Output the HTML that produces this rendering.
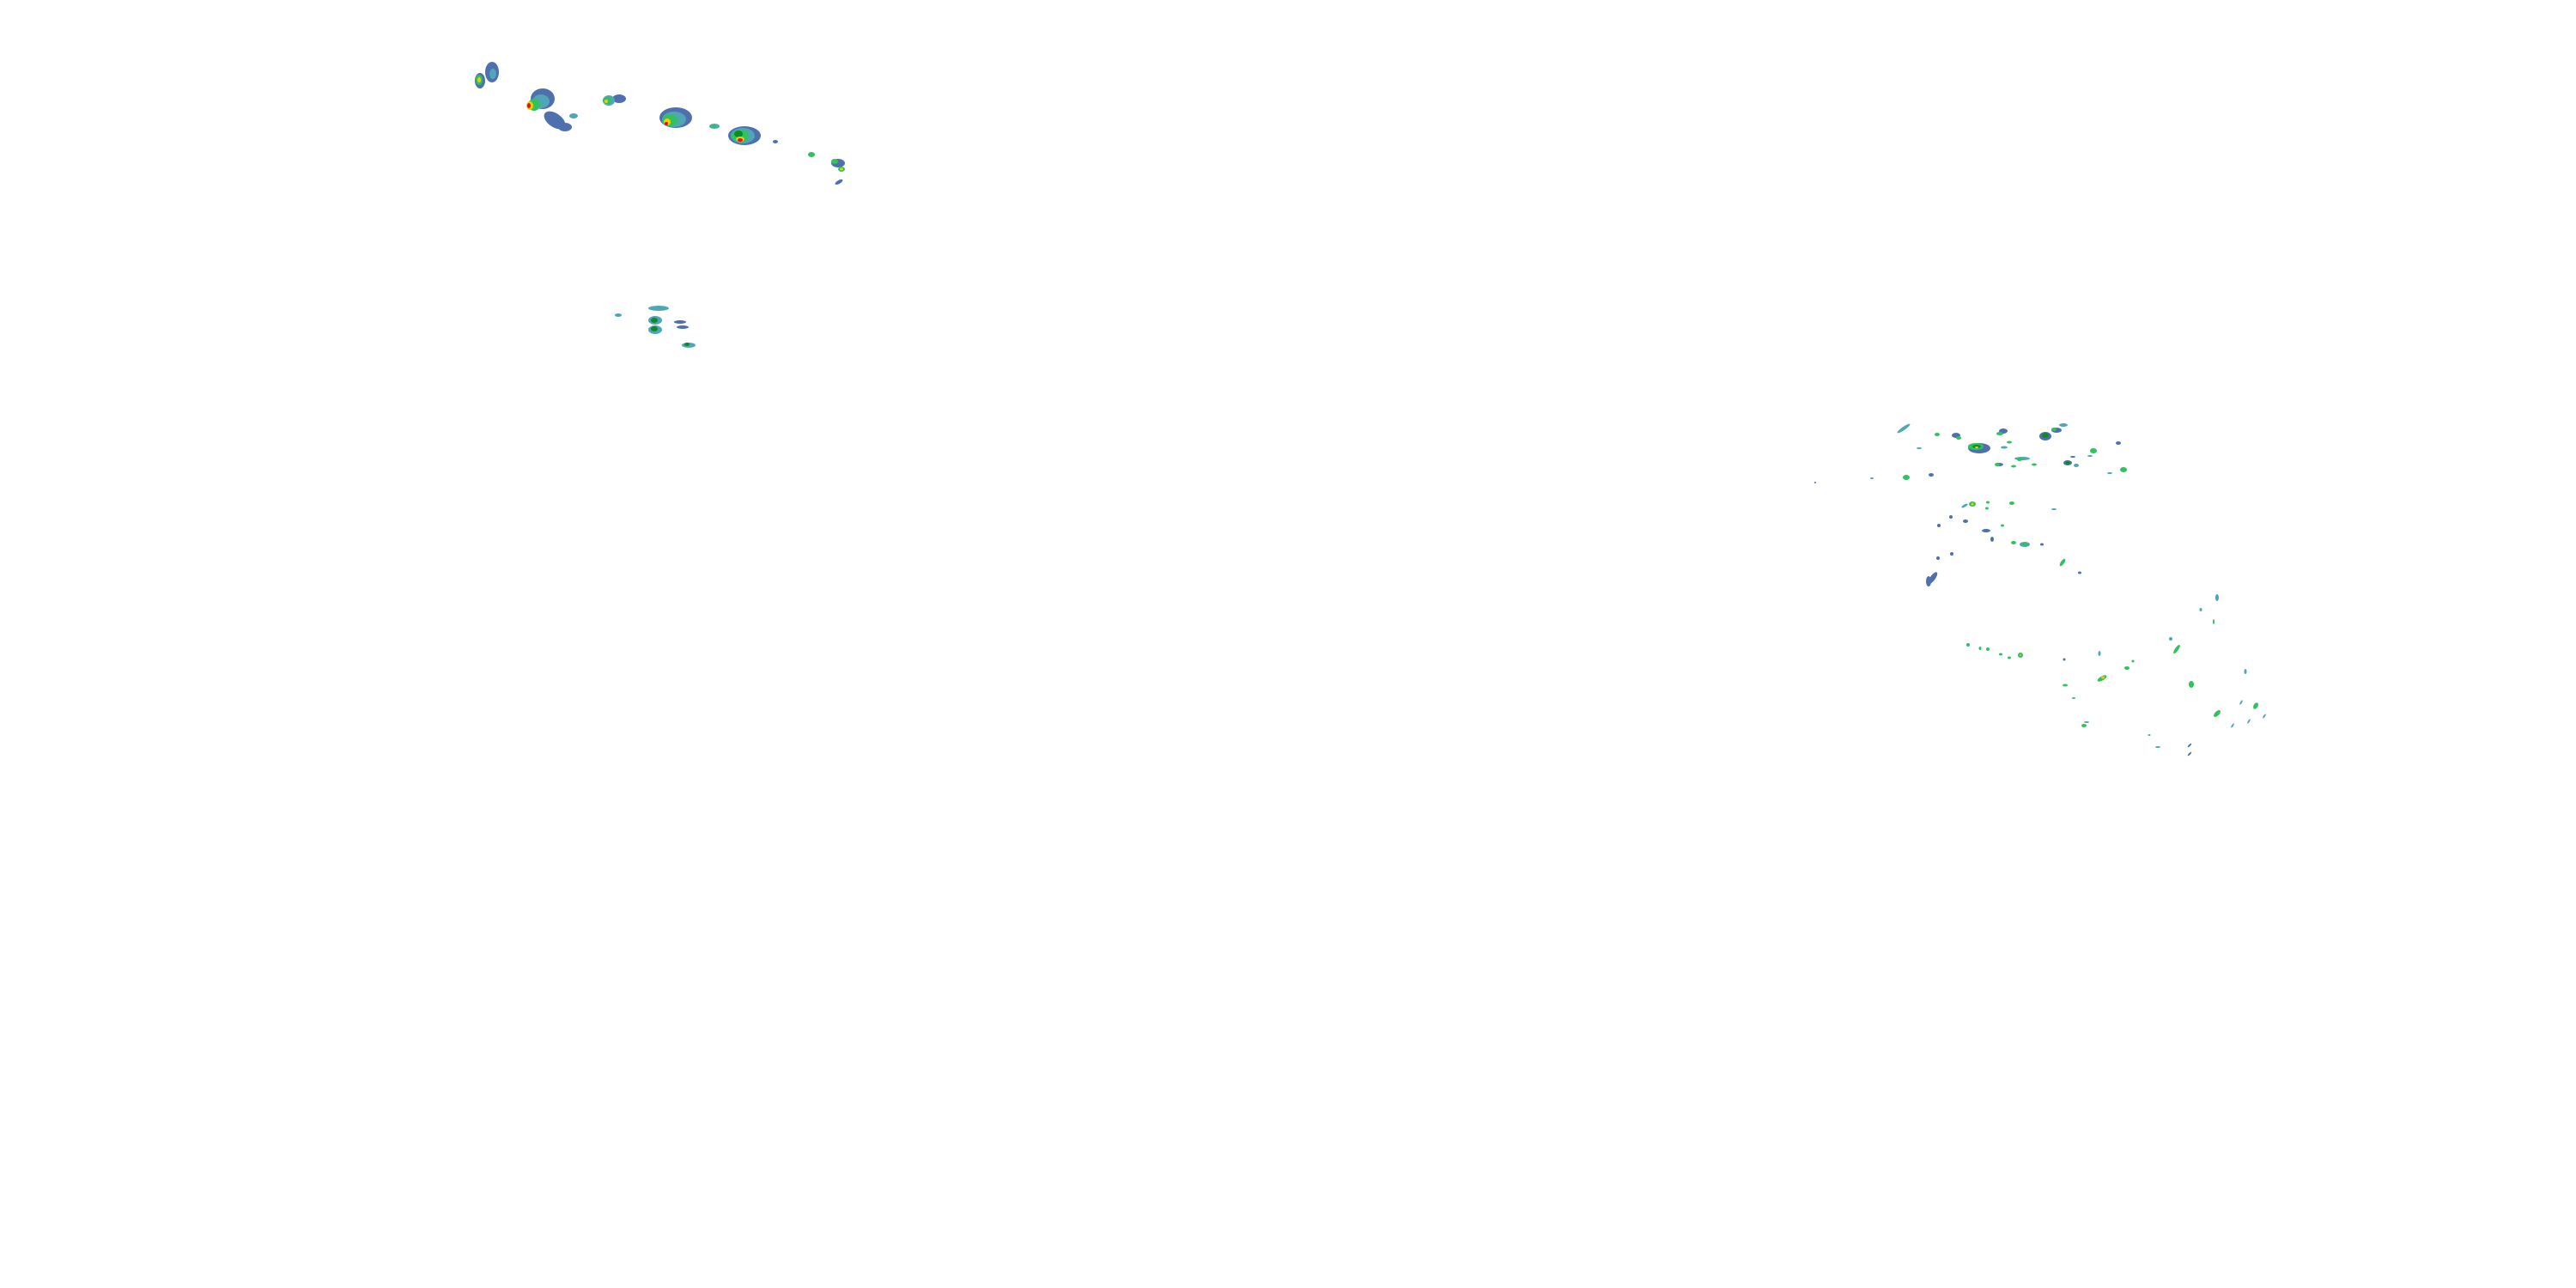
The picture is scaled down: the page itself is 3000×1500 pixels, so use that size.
<!DOCTYPE html>
<html><head><style>html,body{margin:0;padding:0;background:#fff}svg{display:block}</style></head><body>
<svg width="3000" height="1500" viewBox="0 0 3000 1500" xmlns="http://www.w3.org/2000/svg">
<defs>
<style>.b{fill:#4f6fae}.t{fill:#4fa6b4}.g{fill:#2fc25e}.d{fill:#0c8a2c}.y{fill:#f0cc00}.r{fill:#e0101e}</style>
</defs>
<!-- top-left storms -->
<ellipse class="b" cx="573" cy="84" rx="8" ry="12"/>
<ellipse class="t" cx="574" cy="86" rx="4" ry="6"/>
<ellipse class="b" cx="559" cy="94" rx="6" ry="9"/>
<ellipse class="g" cx="558" cy="93" rx="4" ry="6"/>
<ellipse class="y" cx="558" cy="93" rx="2" ry="3"/>
<ellipse class="b" cx="632" cy="115" rx="14" ry="12"/>
<ellipse class="b" cx="646" cy="140" rx="14" ry="8" transform="rotate(35 646 140)"/>
<ellipse class="b" cx="658" cy="148" rx="8" ry="5"/>
<ellipse class="t" cx="630" cy="118" rx="10" ry="8"/>
<ellipse class="g" cx="622" cy="122" rx="7" ry="7"/>
<ellipse class="y" cx="617" cy="123" rx="4" ry="5"/>
<ellipse class="r" cx="616" cy="123" rx="2" ry="3"/>
<ellipse class="t" cx="668" cy="135" rx="5" ry="3"/>
<ellipse class="b" cx="721" cy="115" rx="8" ry="5"/>
<ellipse class="t" cx="709" cy="117" rx="7" ry="6"/>
<ellipse class="g" cx="707" cy="117" rx="5" ry="4"/>
<ellipse class="y" cx="706" cy="118" rx="2" ry="2"/>
<ellipse class="b" cx="787" cy="137" rx="19" ry="12"/>
<ellipse class="t" cx="785" cy="139" rx="14" ry="9"/>
<ellipse class="g" cx="780" cy="140" rx="9" ry="7"/>
<ellipse class="y" cx="777" cy="142" rx="4" ry="4"/>
<ellipse class="r" cx="776" cy="144" rx="2" ry="2"/>
<ellipse class="t" cx="832" cy="147" rx="6" ry="3"/>
<ellipse class="g" cx="831" cy="147" rx="3" ry="2"/>
<ellipse class="b" cx="867" cy="158" rx="19" ry="11"/>
<ellipse class="t" cx="865" cy="158" rx="14" ry="9"/>
<ellipse class="g" cx="862" cy="158" rx="10" ry="7"/>
<ellipse class="d" cx="860" cy="156" rx="5" ry="4"/>
<ellipse class="y" cx="862" cy="162" rx="5" ry="3"/>
<ellipse class="r" cx="862" cy="163" rx="3" ry="2"/>
<ellipse class="b" cx="903" cy="165" rx="3" ry="2"/>
<ellipse class="g" cx="945" cy="180" rx="4" ry="3"/>
<ellipse class="b" cx="976" cy="190" rx="8" ry="5"/>
<ellipse class="g" cx="972" cy="188" rx="4" ry="3"/>
<ellipse class="g" cx="980" cy="197" rx="4" ry="3"/>
<ellipse class="y" cx="980" cy="197" rx="2" ry="1.5"/>
<ellipse class="b" cx="977" cy="212" rx="5" ry="2" transform="rotate(-30 977 212)"/>
<ellipse class="t" cx="767" cy="359" rx="12" ry="3"/>
<ellipse class="t" cx="763" cy="373" rx="8" ry="5"/>
<ellipse class="d" cx="762" cy="373" rx="4" ry="3"/>
<ellipse class="t" cx="763" cy="384" rx="8" ry="5"/>
<ellipse class="d" cx="762" cy="383" rx="4" ry="3"/>
<ellipse class="b" cx="792" cy="375" rx="7" ry="2"/>
<ellipse class="b" cx="795" cy="381" rx="7" ry="2"/>
<ellipse class="t" cx="802" cy="402" rx="8" ry="3"/>
<ellipse class="d" cx="800" cy="401" rx="3" ry="2"/>
<ellipse class="t" cx="720" cy="367" rx="4" ry="2"/>
<!-- right cluster -->
<g>
<ellipse class="t" cx="2217" cy="499" rx="9" ry="2" transform="rotate(-35 2217 499)"/>
<ellipse class="g" cx="2256" cy="506" rx="3" ry="2"/>
<ellipse class="b" cx="2278" cy="507" rx="5" ry="3"/>
<ellipse class="g" cx="2281" cy="510" rx="3" ry="2"/>
<ellipse class="b" cx="2305" cy="522" rx="13" ry="6"/>
<ellipse class="g" cx="2301" cy="520" rx="9" ry="4"/>
<ellipse class="d" cx="2302" cy="520" rx="5" ry="2"/>
<ellipse class="y" cx="2302" cy="521" rx="2" ry="1"/>
<ellipse class="b" cx="2333" cy="502" rx="5" ry="3"/>
<ellipse class="g" cx="2329" cy="505" rx="4" ry="2"/>
<ellipse class="b" cx="2382" cy="508" rx="7" ry="5"/>
<ellipse class="d" cx="2382" cy="507" rx="4" ry="3"/>
<ellipse class="b" cx="2395" cy="501" rx="6" ry="3"/>
<ellipse class="g" cx="2392" cy="500" rx="3" ry="2"/>
<ellipse class="t" cx="2403" cy="495" rx="5" ry="2"/>
<ellipse class="t" cx="2334" cy="521" rx="4" ry="1.5"/>
<ellipse class="g" cx="2340" cy="515" rx="3" ry="1.5"/>
<ellipse class="t" cx="2355" cy="534" rx="9" ry="2"/>
<ellipse class="g" cx="2352" cy="535" rx="3" ry="2"/>
<ellipse class="b" cx="2328" cy="541" rx="5" ry="2"/>
<ellipse class="g" cx="2326" cy="541" rx="3" ry="2"/>
<ellipse class="g" cx="2345" cy="543" rx="3" ry="1.5"/>
<ellipse class="g" cx="2369" cy="541" rx="3" ry="1.5"/>
<ellipse class="b" cx="2408" cy="539" rx="5" ry="3"/>
<ellipse class="d" cx="2408" cy="539" rx="3" ry="2"/>
<ellipse class="t" cx="2418" cy="542" rx="3" ry="2"/>
<ellipse class="b" cx="2414" cy="532" rx="3" ry="1"/>
<ellipse class="g" cx="2438" cy="525" rx="4" ry="3"/>
<ellipse class="t" cx="2434" cy="531" rx="3" ry="1"/>
<ellipse class="b" cx="2467" cy="516" rx="3" ry="2"/>
<ellipse class="g" cx="2473" cy="547" rx="4" ry="3"/>
<ellipse class="t" cx="2457" cy="551" rx="3" ry="1"/>
<ellipse class="t" cx="2235" cy="522" rx="3" ry="1"/>
<ellipse class="g" cx="2220" cy="556" rx="4" ry="3"/>
<ellipse class="b" cx="2249" cy="553" rx="3" ry="2"/>
<ellipse class="t" cx="2180" cy="557" rx="2" ry="1"/>
<ellipse class="g" cx="2297" cy="587" rx="4" ry="3"/>
<ellipse class="y" cx="2297" cy="587" rx="1.5" ry="1.5"/>
<ellipse class="t" cx="2288" cy="589" rx="4" ry="1.5" transform="rotate(-30 2288 589)"/>
<ellipse class="g" cx="2343" cy="586" rx="3" ry="2"/>
<ellipse class="g" cx="2315" cy="585" rx="2" ry="1.5"/>
<ellipse class="g" cx="2314" cy="592" rx="2" ry="1.5"/>
<ellipse class="t" cx="2392" cy="593" rx="3" ry="1"/>
<ellipse class="b" cx="2313" cy="618" rx="5" ry="2"/>
<ellipse class="b" cx="2289" cy="607" rx="3" ry="2"/>
<ellipse class="b" cx="2272" cy="602" rx="2" ry="2"/>
<ellipse class="b" cx="2258" cy="612" rx="2" ry="2"/>
<ellipse class="g" cx="2332" cy="612" rx="2" ry="1.5"/>
<ellipse class="b" cx="2320" cy="628" rx="2" ry="3"/>
<ellipse class="t" cx="2358" cy="634" rx="6" ry="3"/>
<ellipse class="g" cx="2358" cy="634" rx="3" ry="2"/>
<ellipse class="g" cx="2345" cy="632" rx="3" ry="2"/>
<ellipse class="b" cx="2378" cy="634" rx="2" ry="1.5"/>
<ellipse class="b" cx="2273" cy="645" rx="2" ry="2"/>
<ellipse class="b" cx="2257" cy="650" rx="2" ry="2"/>
<ellipse class="b" cx="2246" cy="677" rx="3" ry="6"/>
<ellipse class="b" cx="2251" cy="673" rx="3" ry="8" transform="rotate(35 2251 673)"/>
<ellipse class="g" cx="2402" cy="655" rx="2" ry="5" transform="rotate(35 2402 655)"/>
<ellipse class="b" cx="2422" cy="667" rx="2" ry="1.5"/>
<ellipse class="t" cx="2582" cy="696" rx="2" ry="4"/>
<ellipse class="t" cx="2563" cy="710" rx="1.5" ry="2"/>
<ellipse class="g" cx="2578" cy="724" rx="1" ry="3"/>
<ellipse class="t" cx="2528" cy="744" rx="2" ry="2"/>
<ellipse class="g" cx="2535" cy="756" rx="2" ry="6" transform="rotate(35 2535 756)"/>
<ellipse class="g" cx="2292" cy="751" rx="2" ry="2"/>
<ellipse class="g" cx="2306" cy="755" rx="1.5" ry="2"/>
<ellipse class="g" cx="2315" cy="756" rx="2" ry="2"/>
<ellipse class="g" cx="2330" cy="762" rx="2" ry="1.5"/>
<ellipse class="g" cx="2340" cy="766" rx="2" ry="1.5"/>
<ellipse class="g" cx="2353" cy="763" rx="3" ry="3"/>
<ellipse class="y" cx="2353" cy="763" rx="1" ry="1"/>
<ellipse class="t" cx="2445" cy="761" rx="1.5" ry="3"/>
<ellipse class="g" cx="2448" cy="790" rx="6" ry="2.5" transform="rotate(-30 2448 790)"/>
<ellipse class="y" cx="2449" cy="789" rx="2" ry="1.5"/>
<ellipse class="g" cx="2477" cy="778" rx="3" ry="2"/>
<ellipse class="g" cx="2484" cy="770" rx="1.5" ry="1.5"/>
<ellipse class="g" cx="2552" cy="797" rx="3" ry="4"/>
<ellipse class="t" cx="2615" cy="782" rx="1.5" ry="3"/>
<ellipse class="g" cx="2582" cy="831" rx="2.5" ry="5" transform="rotate(45 2582 831)"/>
<ellipse class="g" cx="2627" cy="822" rx="2.5" ry="4" transform="rotate(30 2627 822)"/>
<ellipse class="t" cx="2610" cy="818" rx="1" ry="3" transform="rotate(30 2610 818)"/>
<ellipse class="t" cx="2619" cy="840" rx="1" ry="3" transform="rotate(35 2619 840)"/>
<ellipse class="t" cx="2637" cy="834" rx="1" ry="3" transform="rotate(35 2637 834)"/>
<ellipse class="t" cx="2600" cy="845" rx="1" ry="3" transform="rotate(35 2600 845)"/>
<ellipse class="b" cx="2404" cy="768" rx="1.5" ry="1.5"/>
<ellipse class="g" cx="2405" cy="798" rx="3" ry="1.5"/>
<ellipse class="t" cx="2415" cy="813" rx="2" ry="1"/>
<ellipse class="g" cx="2427" cy="845" rx="3" ry="2"/>
<ellipse class="t" cx="2430" cy="841" rx="3" ry="1"/>
<ellipse class="t" cx="2513" cy="870" rx="3" ry="1"/>
<ellipse class="t" cx="2503" cy="856" rx="1.5" ry="1"/>
<ellipse class="b" cx="2550" cy="868" rx="1" ry="3" transform="rotate(45 2550 868)"/>
<ellipse class="b" cx="2550" cy="878" rx="1" ry="3" transform="rotate(45 2550 878)"/>
<ellipse class="b" cx="2114" cy="562" rx="1" ry="1"/>
</g>
</svg>
</body></html>
